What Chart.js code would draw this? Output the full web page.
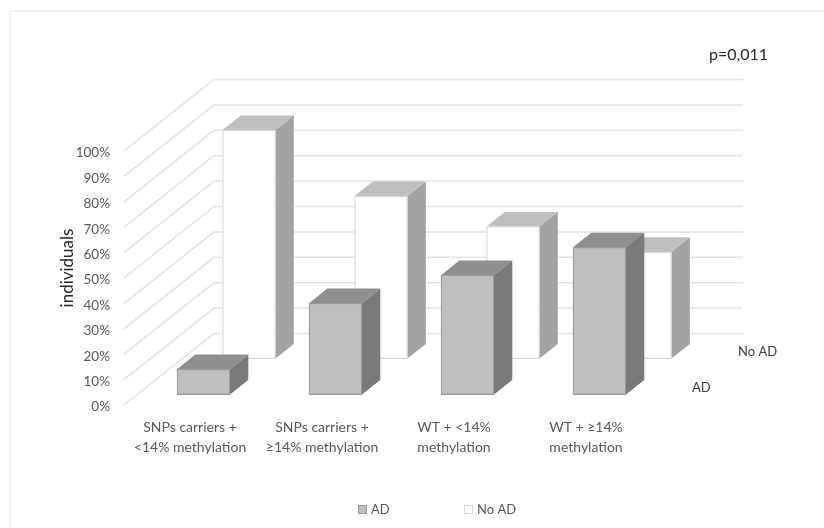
<!DOCTYPE html>
<html>
<head>
<meta charset="utf-8">
<title>individuals</title>
<script src="https://cdn.jsdelivr.net/npm/chart.js@4/dist/chart.umd.min.js"></script>
<style>
    html, body { margin: 0; padding: 0; background: #fff; }
    #wrap { width: 824px; height: 528px; }
</style>
</head>
<body>
<div id="wrap"><canvas id="chartCanvas" width="824" height="528"></canvas></div>
<script>
const categories = [
    ["SNPs carriers +", "<14% methylation"],
    ["SNPs carriers +", "≥14% methylation"],
    ["WT + <14%", "methylation"],
    ["WT + ≥14%", "methylation"]
];
const adValues = [10, 36, 47, 58];
const noAdValues = [90, 64, 52, 42];
const seriesNames = ["AD", "No AD"];

const FONT = "Lato, 'Open Sans', sans-serif";
const TICK_COLOR = "#595959";

// the scale sits 2px low so the Lato tick text centres on its gridline
const LIFT = -2;

// oblique projection: how far each row sits behind the front plane
const ROW_SHIFT = [
    { dx: 13.5, dy: -10.4 + LIFT },   // AD
    { dx: 59, dy: -46.4 + LIFT }      // No AD
];
const BAR_DEPTH = { dx: 18.3, dy: -14.6 };
const WALL = { dx: 90, dy: -71.5, right: 743 };
const FACES = [
    { top: "#8f8f8f", side: "#7a7a7a" },
    { top: "#bfbfbf", side: "#a3a3a3" }
];

function fillPoly(ctx, pts, color) {
    ctx.beginPath();
    pts.forEach((p, i) => i ? ctx.lineTo(p[0], p[1]) : ctx.moveTo(p[0], p[1]));
    ctx.closePath();
    ctx.fillStyle = color;
    ctx.fill();
}

const wallPlugin = {
    id: "wall3d",
    beforeDatasetsDraw(chart) {
        const { ctx, scales } = chart;
        const left = scales.x.left;
        ctx.save();

        // light frame around the figure
        ctx.strokeStyle = "#f2f2f2";
        ctx.lineWidth = 2;
        ctx.beginPath();
        ctx.moveTo(10, 528);
        ctx.lineTo(10, 11);
        ctx.lineTo(824, 11);
        ctx.stroke();

        // gridlines: diagonal on the side wall, then flat along the back wall
        ctx.strokeStyle = "#e4e4e4";
        ctx.lineWidth = 1.5;
        scales.y.ticks.forEach(t => {
            const y = scales.y.getPixelForValue(t.value) + LIFT;
            ctx.beginPath();
            ctx.moveTo(left, y);
            ctx.lineTo(left + WALL.dx, y + WALL.dy);
            ctx.lineTo(WALL.right, y + WALL.dy);
            ctx.stroke();
        });
        ctx.restore();
    },
    beforeDatasetDraw(chart, args) {
        const { ctx } = chart;
        const shift = ROW_SHIFT[args.index];
        const face = FACES[args.index];
        ctx.save();
        ctx.translate(shift.dx, shift.dy);
        args.meta.data.forEach(bar => {
            const l = bar.x - bar.width / 2;
            const r = bar.x + bar.width / 2;
            const d = BAR_DEPTH;
            fillPoly(ctx, [[l, bar.y], [l + d.dx, bar.y + d.dy], [r + d.dx, bar.y + d.dy], [r, bar.y]], face.top);
            fillPoly(ctx, [[r, bar.y], [r + d.dx, bar.y + d.dy], [r + d.dx, bar.base + d.dy], [r, bar.base]], face.side);
        });
    },
    afterDatasetDraw(chart) {
        chart.ctx.restore();
    },
    afterDraw(chart) {
        const { ctx } = chart;
        ctx.save();
        ctx.textBaseline = "middle";

        // series names along the depth axis
        ctx.font = "13px " + FONT;
        ctx.fillStyle = "#404040";
        ctx.textAlign = "left";
        ctx.fillText(seriesNames[1], 738, 352);
        ctx.fillText(seriesNames[0], 692, 388);

        ctx.font = "16px " + FONT;
        ctx.fillStyle = "#262626";
        ctx.fillText("p=0,011", 709, 55);

        // legend
        ctx.font = "13px " + FONT;
        [358, 464].forEach((x, i) => {
            const ds = chart.data.datasets[i];
            ctx.fillStyle = ds.backgroundColor;
            ctx.strokeStyle = ds.borderColor;
            ctx.lineWidth = 1;
            ctx.fillRect(x, 505, 9, 9);
            ctx.strokeRect(x + 0.5, 505.5, 8, 8);
            ctx.fillStyle = TICK_COLOR;
            ctx.fillText(ds.label, x + 13, 509.5);
        });

        // axis title
        ctx.translate(68, 268);
        ctx.rotate(-Math.PI / 2);
        ctx.textAlign = "center";
        ctx.font = "17px " + FONT;
        ctx.fillStyle = "#262626";
        ctx.fillText("individuals", 0, 0);
        ctx.restore();
    }
};

new Chart(document.getElementById("chartCanvas").getContext("2d"), {
    type: "bar",
    data: {
        labels: categories,
        datasets: [
            {
                label: seriesNames[0],
                data: adValues,
                backgroundColor: "#bfbfbf",
                borderColor: "#9a9a9a",
                borderWidth: 1.3,
                borderSkipped: false,
                clip: false
            },
            {
                label: seriesNames[1],
                data: noAdValues,
                backgroundColor: "#ffffff",
                borderColor: "#d9d9d9",
                borderWidth: 1.3,
                borderSkipped: false,
                clip: false
            }
        ]
    },
    options: {
        responsive: false,
        animation: false,
        events: [],
        layout: { padding: { left: 0, right: 172, top: 153, bottom: 0 } },
        datasets: { bar: { barThickness: 53, grouped: false } },
        plugins: { legend: { display: false }, tooltip: { enabled: false } },
        scales: {
            x: {
                grid: { display: false },
                border: { display: false },
                ticks: {
                    padding: 3,
                    maxRotation: 0,
                    autoSkip: false,
                    color: TICK_COLOR,
                    font: { family: FONT, size: 14, lineHeight: 1.4 }
                },
                afterFit(scale) { scale.height = 121; }
            },
            y: {
                min: 0,
                max: 100,
                grid: { display: false },
                border: { display: false },
                ticks: {
                    stepSize: 10,
                    padding: 6,
                    color: TICK_COLOR,
                    font: { family: FONT, size: 13.5 },
                    callback: v => v + "%"
                },
                afterFit(scale) { scale.width = 124; }
            }
        }
    },
    plugins: [wallPlugin]
});
</script>
</body>
</html>
